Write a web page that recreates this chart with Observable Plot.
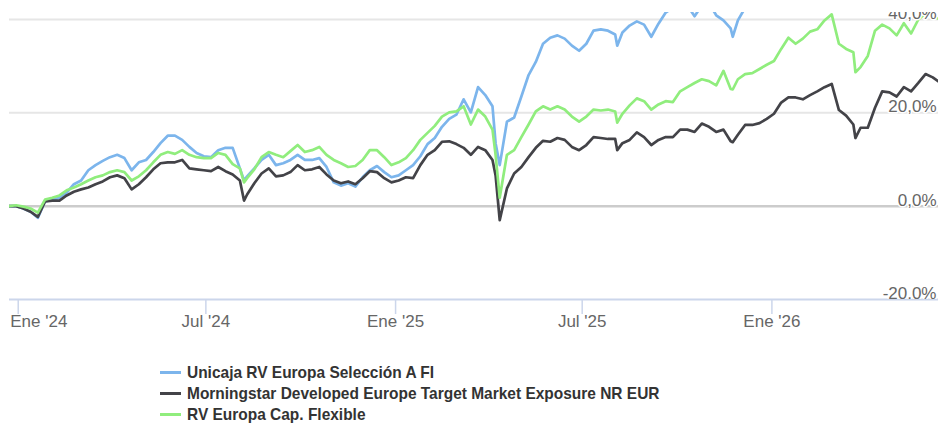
<!DOCTYPE html>
<html>
<head>
<meta charset="utf-8">
<script src="https://cdn.jsdelivr.net/npm/d3@7"></script>
<script src="https://cdn.jsdelivr.net/npm/@observablehq/plot@0.6"></script>
<style>
  html, body { margin: 0; padding: 0; background: #fff; }
  body { width: 938px; height: 426px; position: relative; overflow: hidden; font-family: "Liberation Sans", Arial, sans-serif; }
  #chart svg { display: block; }
  #legend { position: absolute; left: 160px; top: 362px; color: #333; font-weight: bold; font-size: 17px;
            font-family: "Liberation Sans", Arial, sans-serif; }
  #legend .item { height: 21px; line-height: 21px; white-space: nowrap; display: flex; align-items: center; }
  #legend .sw { display: inline-block; width: 21px; height: 3px; margin-right: 6px; }
  #legend .txt { display: inline-block; transform-origin: left center; transform: scaleX(0.91); }
</style>
</head>
<body>
<div id="chart"></div>
<div id="legend"></div>
<script>
const seriesNames = ["Unicaja RV Europa Selección A FI", "Morningstar Developed Europe Target Market Exposure NR EUR", "RV Europa Cap. Flexible"];
const seriesColors = ["#7cb5ec", "#434348", "#90ed7d"];

const dates = ["2023-12-23","2023-12-30","2024-01-06","2024-01-13","2024-01-20","2024-01-27","2024-02-03","2024-02-10","2024-02-17","2024-02-24",
"2024-03-02","2024-03-09","2024-03-16","2024-03-23","2024-03-30","2024-04-06","2024-04-13","2024-04-20","2024-04-27","2024-05-04",
"2024-05-11","2024-05-18","2024-05-25","2024-06-01","2024-06-08","2024-06-15","2024-06-22","2024-06-29","2024-07-06","2024-07-13",
"2024-07-20","2024-07-27","2024-08-03","2024-08-07","2024-08-10","2024-08-17","2024-08-24","2024-08-31","2024-09-07","2024-09-14","2024-09-21",
"2024-09-28","2024-10-05","2024-10-12","2024-10-19","2024-10-26","2024-11-02","2024-11-09","2024-11-16","2024-11-23","2024-11-30",
"2024-12-07","2024-12-14","2024-12-21","2024-12-28","2025-01-04","2025-01-11","2025-01-18","2025-01-25","2025-02-01","2025-02-08",
"2025-02-15","2025-02-22","2025-03-01","2025-03-08","2025-03-15","2025-03-22","2025-03-29","2025-04-05","2025-04-08","2025-04-12","2025-04-19",
"2025-04-26","2025-05-03","2025-05-10","2025-05-17","2025-05-24","2025-05-31","2025-06-07","2025-06-14","2025-06-21","2025-06-28",
"2025-07-05","2025-07-12","2025-07-19","2025-07-26","2025-08-02","2025-08-04","2025-08-09","2025-08-16","2025-08-23","2025-08-30","2025-09-06",
"2025-09-13","2025-09-20","2025-09-27","2025-10-04","2025-10-11","2025-10-18","2025-10-25","2025-11-01","2025-11-08","2025-11-15",
"2025-11-22","2025-11-24","2025-11-29","2025-12-06","2025-12-13","2025-12-20","2025-12-27","2026-01-03","2026-01-10","2026-01-17","2026-01-24",
"2026-01-31","2026-02-07","2026-02-14","2026-02-21","2026-02-28","2026-03-07","2026-03-14","2026-03-21","2026-03-23","2026-03-28","2026-04-04",
"2026-04-11","2026-04-18","2026-04-25","2026-05-02","2026-05-09","2026-05-16","2026-05-23","2026-05-30","2026-06-06","2026-06-13"];

const unicaja = [0,0,-0.5,-1.2,-2.5,1.0,1.4,1.8,2.9,4.7,
5.5,7.7,8.8,9.7,10.5,11.0,10.3,7.7,9.4,9.9,
11.6,13.5,15.1,15.1,14.2,12.7,11.4,10.7,10.5,12.0,
12.5,12.5,8.1,5.5,6.4,8.1,9.9,11.0,8.8,9.2,9.9,
11.0,9.9,9.9,10.3,8.4,5.1,4.4,4.9,4.2,6.2,
7.7,8.6,7.3,6.2,6.6,7.7,8.8,10.7,13.3,14.6,
17.0,18.7,19.6,22.9,20.1,25.5,23.8,21.4,13.5,8.8,18.1,
19.0,23.5,28.1,30.9,34.8,36.1,36.6,35.9,34.4,33.3,
34.8,37.6,37.9,37.6,36.8,34.4,37.2,38.7,39.6,38.9,36.3,
39.1,41.5,42.5,43.5,43.0,40.7,43.0,43.5,40.9,39.8,
38.1,36.3,39.8,42.5,44,45,45,46,46,47,46,
47,47,48,48,49,47,46,46,45,45,46,
47,48,48,48,49,49,50,50,50,50];

const morningstar = [0,0,-0.5,-1.2,-2.3,1.0,1.2,1.2,2.3,3.1,
3.6,4.0,4.7,5.3,6.2,6.6,6.0,3.6,4.7,6.2,
7.9,9.2,9.4,9.4,9.9,8.1,7.9,7.7,7.5,8.4,
7.5,6.8,5.5,1.2,2.5,4.9,7.0,8.1,6.4,6.6,7.3,
8.8,7.7,7.9,8.4,6.8,5.5,4.9,5.3,4.7,6.0,
7.5,7.3,6.0,5.1,5.5,6.2,6.0,8.8,11.0,12.0,
13.8,13.9,13.3,12.5,11.0,12.7,12.0,9.9,6.6,-3.0,3.8,
7.0,8.4,10.5,12.5,14.0,13.8,14.6,14.2,12.7,12.0,
13.1,14.8,14.6,14.4,14.4,12.0,13.5,14.2,15.8,14.8,13.1,
14.2,14.8,14.8,16.4,16.4,15.9,17.7,17.0,15.9,16.4,
13.9,13.7,15.3,17.4,17.4,17.8,18.7,19.8,22.2,23.3,23.3,
22.9,23.8,24.6,25.5,26.2,20.6,19.4,17.5,14.6,16.8,16.8,
21.1,24.6,24.4,23.5,25.5,24.6,26.4,28.3,27.6,26.5];

const capFlexible = [0,0.2,-0.1,-0.5,-1.4,1.4,1.8,2.3,3.4,4.0,
4.7,5.5,6.2,6.6,7.3,7.7,7.3,5.5,6.4,7.7,
9.4,11.0,11.6,11.2,12.0,11.0,10.5,10.3,10.3,11.4,
11.0,9.0,8.1,5.1,6.0,7.9,10.5,11.6,11.0,10.5,11.8,
13.1,11.6,12.0,12.7,11.0,9.9,9.2,8.4,8.6,9.9,
12.0,12.0,10.5,8.8,9.4,10.3,12.0,14.2,15.7,17.2,
19.2,20.1,20.3,21.4,17.5,20.7,19.2,16.4,11.0,1.8,11.0,
12.0,14.8,17.5,20.3,21.4,20.7,21.4,20.7,19.2,18.1,
19.2,20.7,20.5,20.7,20.3,17.9,19.8,21.6,23.1,22.5,20.7,
21.8,22.5,22.3,24.6,25.5,26.4,27.2,26.8,25.9,29.0,
25.1,25.0,27.2,28.3,28.5,29.4,30.3,31.1,33.7,36.1,34.8,
35.9,37.4,37.9,39.8,41.1,34.8,33.7,33.0,28.7,29.8,32.2,
37.6,38.9,38.1,36.6,39.2,37.0,40.0,41.3,40.7,40.0];

const yTicks = [-20, 0, 20, 40];
const xTickDates = ["2024-01-01","2024-07-01","2025-01-01","2025-07-01","2026-01-01"];
const xTickLabels = ["Ene '24","Jul '24","Ene '25","Jul '25","Ene '26"];

const parse = d3.utcParse("%Y-%m-%d");
const allSeries = [unicaja, morningstar, capFlexible];
const rows = allSeries.map((vals, s) => dates.map((d, i) => ({date: parse(d), value: vals[i], series: seriesNames[s]})));
const xTicks = xTickDates.map((d, i) => ({date: parse(d), label: xTickLabels[i]}));
const fmt = v => (v < 0 ? "-" : "") + Math.abs(v).toFixed(1).replace(".", ",") + "%";

const chart = Plot.plot({
  width: 938,
  height: 340,
  marginLeft: 9,
  marginRight: 0,
  marginTop: 12,
  marginBottom: 41,
  style: {fontFamily: "'Liberation Sans', Arial, sans-serif", background: "#fff", overflow: "visible"},
  x: {type: "utc", domain: [new Date("2023-12-23T13:00:00Z"), new Date("2026-06-11T14:00:00Z")], axis: null},
  y: {domain: [-20, 41.5], axis: null},
  marks: [
    Plot.ruleY(yTicks.filter(v => v > 0), {stroke: "#e6e6e6", strokeWidth: 2}),
    Plot.ruleY([0], {stroke: "#cccccc", strokeWidth: 2.5}),
    Plot.ruleY([-20], {stroke: "#ccd6eb", strokeWidth: 2}),
    Plot.axisX(xTicks.map(d => d.date), {tickSize: 15, tickFormat: () => "", color: "#ccd6eb", strokeWidth: 1.5}),
    ...rows.map((r, s) => Plot.line(r, {x: "date", y: "value", stroke: seriesColors[s], strokeWidth: 2.7, strokeLinejoin: "round", clip: true})),
    Plot.text(yTicks, {y: d => d, text: d => fmt(d), frameAnchor: "right", textAnchor: "end", dx: -2, dy: -6,
      fill: "#666", stroke: "#fff", strokeWidth: 3, fontSize: 17, clip: true}),
    Plot.text(xTicks.slice(0, 1), {x: "date", text: "label", frameAnchor: "bottom", textAnchor: "start", dx: -8, dy: 27, fill: "#666", fontSize: 17}),
    Plot.text(xTicks.slice(1), {x: "date", text: "label", frameAnchor: "bottom", dy: 27, fill: "#666", fontSize: 17})
  ]
});
document.getElementById("chart").appendChild(chart);

const legend = document.getElementById("legend");
seriesNames.forEach((name, i) => {
  const item = document.createElement("div");
  item.className = "item";
  const sw = document.createElement("span");
  sw.className = "sw";
  sw.style.background = seriesColors[i];
  const t = document.createElement("span");
  t.className = "txt";
  t.textContent = name;
  item.appendChild(sw);
  item.appendChild(t);
  legend.appendChild(item);
});
</script>
</body>
</html>
